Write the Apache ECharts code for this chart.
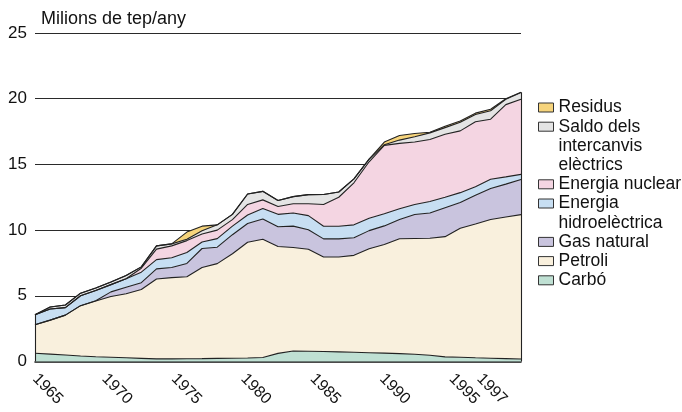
<!DOCTYPE html>
<html>
<head>
<meta charset="utf-8">
<script src="https://cdn.jsdelivr.net/npm/echarts@6/dist/echarts.min.js"></script>
<style>
  html, body { margin: 0; padding: 0; background: #fff; }
  #main { width: 682px; height: 412px; }
</style>
</head>
<body>
<div id="main"></div>
<script>
var years = ["1965","1966","1967","1968","1969","1970","1971","1972","1973","1974",
  "1975","1976","1977","1978","1979","1980","1981","1982","1983","1984",
  "1985","1986","1987","1988","1989","1990","1991","1992","1993","1994",
  "1995","1996","1997"];
var tickLabels = [1965, 1970, 1975, 1980, 1985, 1990, 1995, 1997];

// milions de tep/any, per font
var carbo = [0.63,0.56,0.49,0.42,0.36,0.32,0.28,0.24,0.2,0.2,0.21,0.22,0.24,0.25,0.27,0.3,0.62,0.8,0.78,0.76,0.73,0.7,0.67,0.64,0.6,0.55,0.48,0.35,0.32,0.28,0.25,0.22,0.19];
var petroli = [2.16,2.59,3.04,3.83,4.24,4.63,4.87,5.24,6.08,6.18,6.24,6.93,7.21,7.95,8.81,9.0,8.13,7.87,7.76,7.19,7.22,7.38,7.91,8.26,8.74,8.81,8.9,9.15,9.82,10.19,10.56,10.78,10.99];
var gasNatural = [0,0,0,0,0.02,0.35,0.5,0.52,0.77,0.77,1.01,1.45,1.25,1.45,1.42,1.55,1.5,1.63,1.49,1.38,1.38,1.34,1.38,1.42,1.46,1.83,1.92,2.2,1.96,2.19,2.36,2.5,2.67];
var hidro = [0.76,0.85,0.57,0.75,0.78,0.55,0.65,0.8,0.7,0.75,0.84,0.5,0.65,0.65,0.65,0.8,0.95,1.0,1.07,0.96,0.96,0.98,0.94,0.93,0.82,0.76,0.88,0.8,0.75,0.64,0.7,0.55,0.39];
var nuclear = [0,0,0,0,0,0,0,0.3,0.8,0.9,0.9,0.6,0.65,0.5,0.8,0.65,0.6,0.7,0.9,1.66,2.21,3.2,4.3,5.2,4.98,4.75,4.72,4.8,4.7,4.95,4.57,5.5,5.72];
var saldo = [0,0.15,0.2,0.2,0.2,0.2,0.25,0.1,0.25,0.15,0.1,0.25,0.4,0.4,0.8,0.65,0.45,0.55,0.7,0.76,0.4,0.3,0.2,0.05,0.25,0.4,0.5,0.5,0.65,0.55,0.64,0.4,0.51];
var residus = [0,0,0,0,0,0,0,0,0,0,0.55,0.35,0,0,0,0,0,0,0,0,0,0,0,0.2,0.35,0.25,0.05,0.1,0.1,0.1,0.12,0.05,0.03];

var myChart = echarts.init(document.getElementById("main"));

var font = "Liberation Sans";
var stroke = "#222";
var lh = 19.2;

var allSeries = [carbo, petroli, gasNatural, hidro, nuclear, saldo, residus];
function totalAt(i) {
  return allSeries.reduce(function (s, arr) { return s + arr[i]; }, 0);
}
var last = years.length - 1;

function area(name, data, color) {
  return {
    name: name,
    type: "line",
    stack: "total",
    data: data,
    symbol: "none",
    color: color,
    lineStyle: { color: stroke, width: 1.1 },
    areaStyle: { color: color, opacity: 1 },
    emphasis: { disabled: true },
    silent: true
  };
}

// one legend per entry; blank lines above keep the swatch on the first text line
function legendItem(name, lineIndex, lines) {
  var blanks = lines.length - 1;
  var total = blanks + lines.length;
  var yc = 107.5 + lineIndex * lh;
  return {
    data: [name],
    orient: "vertical",
    left: 538,
    top: yc - total * lh / 2,
    padding: 0,
    itemWidth: 15,
    itemHeight: 9,
    icon: "rect",
    selectedMode: false,
    itemStyle: { borderColor: "#333", borderWidth: 1 },
    textStyle: { fontFamily: font, fontSize: 17.5, color: "#111", lineHeight: lh },
    formatter: function () {
      return new Array(blanks + 1).join("\n") + lines.join("\n");
    }
  };
}

var topSeries = area("Residus", residus, "#f6d47c");
// closing edges of the stack at the first and last year
topSeries.markLine = {
  silent: true,
  symbol: "none",
  label: { show: false },
  lineStyle: { color: stroke, width: 1.1, type: "solid" },
  data: [
    [{ coord: [years[0], 0] }, { coord: [years[0], totalAt(0)] }],
    [{ coord: [years[last], 0] }, { coord: [years[last], totalAt(last)] }]
  ]
};

option = {
  animation: false,
  textStyle: { fontFamily: font },
  title: {
    text: "Milions de tep/any",
    left: 36, top: 5,
    textStyle: { fontFamily: font, fontSize: 18, fontWeight: "normal", color: "#111" }
  },
  legend: [
    legendItem("Residus", 0, ["Residus"]),
    legendItem("Saldo dels intercanvis elèctrics", 1, ["Saldo dels", "intercanvis", "elèctrics"]),
    legendItem("Energia nuclear", 4, ["Energia nuclear"]),
    legendItem("Energia hidroelèctrica", 5, ["Energia", "hidroelèctrica"]),
    legendItem("Gas natural", 7, ["Gas natural"]),
    legendItem("Petroli", 8, ["Petroli"]),
    legendItem("Carbó", 9, ["Carbó"])
  ],
  grid: { left: 35, right: 161, top: 33, bottom: 50.5, containLabel: false },
  xAxis: [
    {
      type: "category",
      data: years,
      boundaryGap: false,
      axisLine: { lineStyle: { color: "#111", width: 1.5 } },
      axisTick: { show: false },
      axisLabel: { show: false },
      splitLine: { show: false }
    },
    {
      type: "value",
      position: "bottom",
      min: 1965, max: 2000,
      axisLine: { show: false },
      axisTick: { show: false },
      splitLine: { show: false },
      axisLabel: {
        customValues: tickLabels,
        formatter: function (v) { return String(v); },
        rotate: -45,
        margin: 15,
        fontFamily: font, fontSize: 16, color: "#111"
      }
    }
  ],
  yAxis: {
    type: "value",
    min: 0, max: 25, interval: 5,
    axisLine: { show: false },
    axisTick: { show: false },
    axisLabel: { fontFamily: font, fontSize: 17, color: "#111", margin: 8 },
    splitLine: { lineStyle: { color: "#2a2a2a", width: 1 } }
  },
  series: [
    area("Carbó", carbo, "#bfe0d3"),
    area("Petroli", petroli, "#f9f0dd"),
    area("Gas natural", gasNatural, "#c9c4de"),
    area("Energia hidroelèctrica", hidro, "#c7def2"),
    area("Energia nuclear", nuclear, "#f4d5e2"),
    area("Saldo dels intercanvis elèctrics", saldo, "#e4e4e4"),
    topSeries
  ]
};

myChart.setOption(option);
window.addEventListener("resize", function () {
  myChart.resize();
});
</script>
</body>
</html>
